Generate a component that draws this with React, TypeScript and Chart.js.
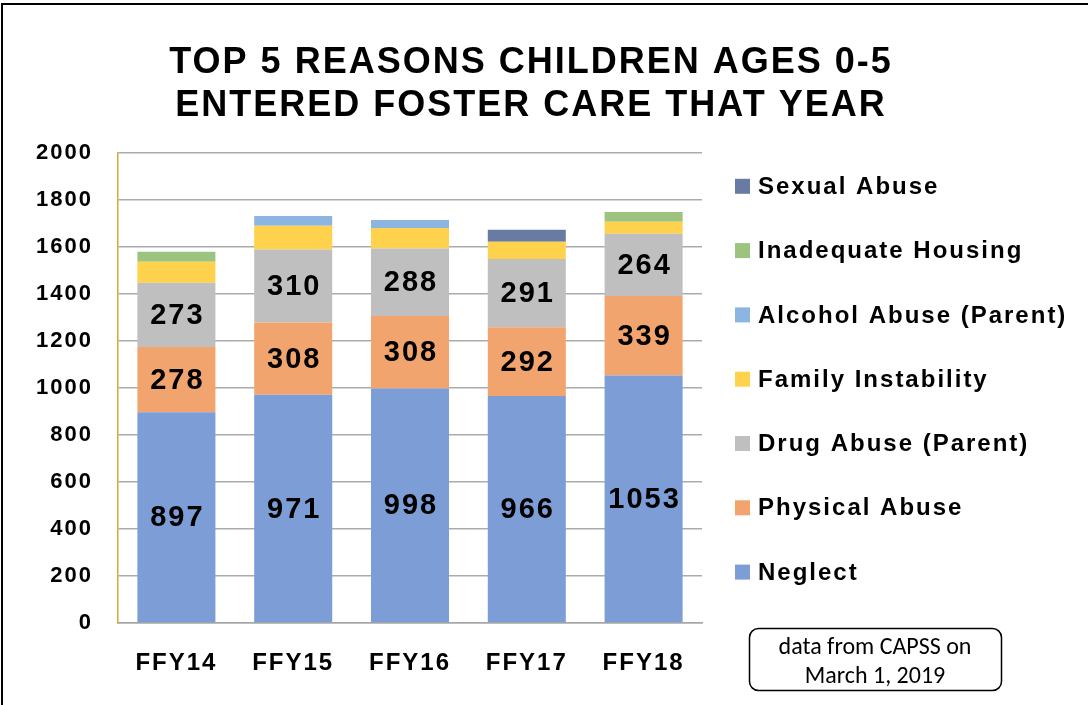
import React, { useEffect, useRef } from 'react';
import { Chart, registerables } from 'chart.js';

Chart.register(...registerables);

const FONT = "'Liberation Sans', Arial, sans-serif";

const categories = ['FFY14', 'FFY15', 'FFY16', 'FFY17', 'FFY18'];
const neglect = [897, 971, 998, 966, 1053];
const physicalAbuse = [278, 308, 308, 292, 339];
const drugAbuse = [273, 310, 288, 291, 264];
const familyInstability = [89, 101, 87, 73, 51];
const alcoholAbuse = [null, 42, 34, null, null];
const inadequateHousing = [43, null, null, null, 42];
const sexualAbuse = [null, null, null, 51, null];

const seriesNames = [
  'Neglect',
  'Physical Abuse',
  'Drug Abuse (Parent)',
  'Family Instability',
  'Alcohol Abuse (Parent)',
  'Inadequate Housing',
  'Sexual Abuse',
];
const seriesColors = ['#7C9DD6', '#F2A46F', '#BFBFBF', '#FFD24D', '#8DB5E2', '#9CC47E', '#687BA3'];
const labelledSeries = 3;

const titleLines = ['TOP 5 REASONS CHILDREN AGES 0-5', 'ENTERED FOSTER CARE THAT YEAR'];
const noteLines = ['data from CAPSS on', 'March 1, 2019'];

const spacingPlugin = {
  id: 'spacing',
  beforeDraw(chart: any) {
    chart.ctx.letterSpacing = '2px';
  },
};

const valueLabelPlugin = {
  id: 'valueLabels',
  afterDatasetsDraw(chart: any) {
    const ctx = chart.ctx;
    ctx.save();
    ctx.letterSpacing = '2px';
    ctx.font = `bold 29px ${FONT}`;
    ctx.fillStyle = '#000';
    ctx.textAlign = 'center';
    ctx.textBaseline = 'middle';
    for (let i = 0; i < labelledSeries; i++) {
      const meta = chart.getDatasetMeta(i);
      const values = chart.data.datasets[i].data;
      meta.data.forEach((bar: any, j: number) => {
        const v = values[j];
        if (v == null) return;
        const { x, y, base } = bar.getProps(['x', 'y', 'base'], true);
        ctx.fillText(String(v), x + 1, (y + base) / 2 + 1);
      });
    }
    ctx.restore();
  },
};

const decorPlugin = {
  id: 'decor',
  afterDraw(chart: any) {
    const ctx = chart.ctx;
    ctx.save();
    ctx.letterSpacing = '2px';
    ctx.fillStyle = '#000';
    ctx.textAlign = 'center';
    ctx.textBaseline = 'middle';
    ctx.font = `bold 36px ${FONT}`;
    titleLines.forEach((t, i) => ctx.fillText(t, 531, 63 + i * 43));

    // legend (reversed order)
    ctx.font = `bold 24px ${FONT}`;
    ctx.textAlign = 'left';
    const ds = chart.data.datasets;
    for (let k = 0; k < ds.length; k++) {
      const d = ds[ds.length - 1 - k];
      const cy = 186.3 + k * 64.3;
      ctx.fillStyle = d.backgroundColor;
      ctx.fillRect(735, cy - 7.5, 15, 15);
      ctx.fillStyle = '#000';
      ctx.fillText(d.label, 758, cy + 1);
    }

    // note box
    ctx.letterSpacing = '0px';
    ctx.beginPath();
    ctx.roundRect(749.5, 628.5, 252, 62, 9);
    ctx.lineWidth = 1.5;
    ctx.strokeStyle = '#000';
    ctx.stroke();
    ctx.font = `24px Carlito, Calibri, Lato, sans-serif`;
    ctx.textAlign = 'center';
    ctx.textBaseline = 'alphabetic';
    ctx.fillStyle = '#000';
    noteLines.forEach((t, i) => {
      ctx.fillText(t, 875, 654 + i * 29);
    });
    ctx.restore();
  },
};

export default function App() {
  const ref = useRef<HTMLCanvasElement>(null);

  useEffect(() => {
    const canvas = ref.current!;
    const series = [neglect, physicalAbuse, drugAbuse, familyInstability, alcoholAbuse, inadequateHousing, sexualAbuse];
    const chart = new Chart(canvas, {
      type: 'bar',
      data: {
        labels: categories,
        datasets: series.map((data, i) => ({
          label: seriesNames[i],
          data: data as any,
          backgroundColor: seriesColors[i],
          borderWidth: 0,
          categoryPercentage: 1,
          barPercentage: 0.668,
        })),
      },
      options: {
        animation: false,
        responsive: false,
        devicePixelRatio: 1,
        layout: { padding: { left: 0, top: 153, right: 389, bottom: 0 } },
        plugins: {
          legend: { display: false },
          title: { display: false },
          tooltip: { enabled: false },
        },
        scales: {
          x: {
            stacked: true,
            grid: { display: false },
            border: { display: true, color: '#A6A6A6', width: 1.5 },
            ticks: { color: '#000', font: { family: FONT, size: 24, weight: 'bold' }, padding: 18 },
            afterFit: (s: any) => {
              s.height = 82;
            },
          },
          y: {
            stacked: true,
            min: 0,
            max: 2000,
            z: 1,
            ticks: {
              stepSize: 200,
              color: '#000',
              font: { family: FONT, size: 22, weight: 'bold' },
              padding: 25,
              callback: (v: any) => String(v),
            },
            grid: { color: 'rgba(0,0,0,0.33)', lineWidth: 1.5, drawTicks: false },
            border: { color: '#D4A937', width: 1.5 },
            afterFit: (s: any) => {
              s.width = 118;
            },
          },
        },
      } as any,
      plugins: [spacingPlugin, valueLabelPlugin, decorPlugin],
    });
    return () => chart.destroy();
  }, []);

  return (
    <div style={{ position: 'absolute', left: 0, top: 0, width: 1091, height: 705, background: '#fff', overflow: 'hidden' }}>
      <canvas ref={ref} width={1091} height={705} style={{ display: 'block' }} />
      <div
        style={{
          position: 'absolute',
          left: 1,
          top: 3,
          width: 1085,
          height: 720,
          borderTop: '2px solid #000',
          borderLeft: '2px solid #000',
          pointerEvents: 'none',
        }}
      />
    </div>
  );
}
